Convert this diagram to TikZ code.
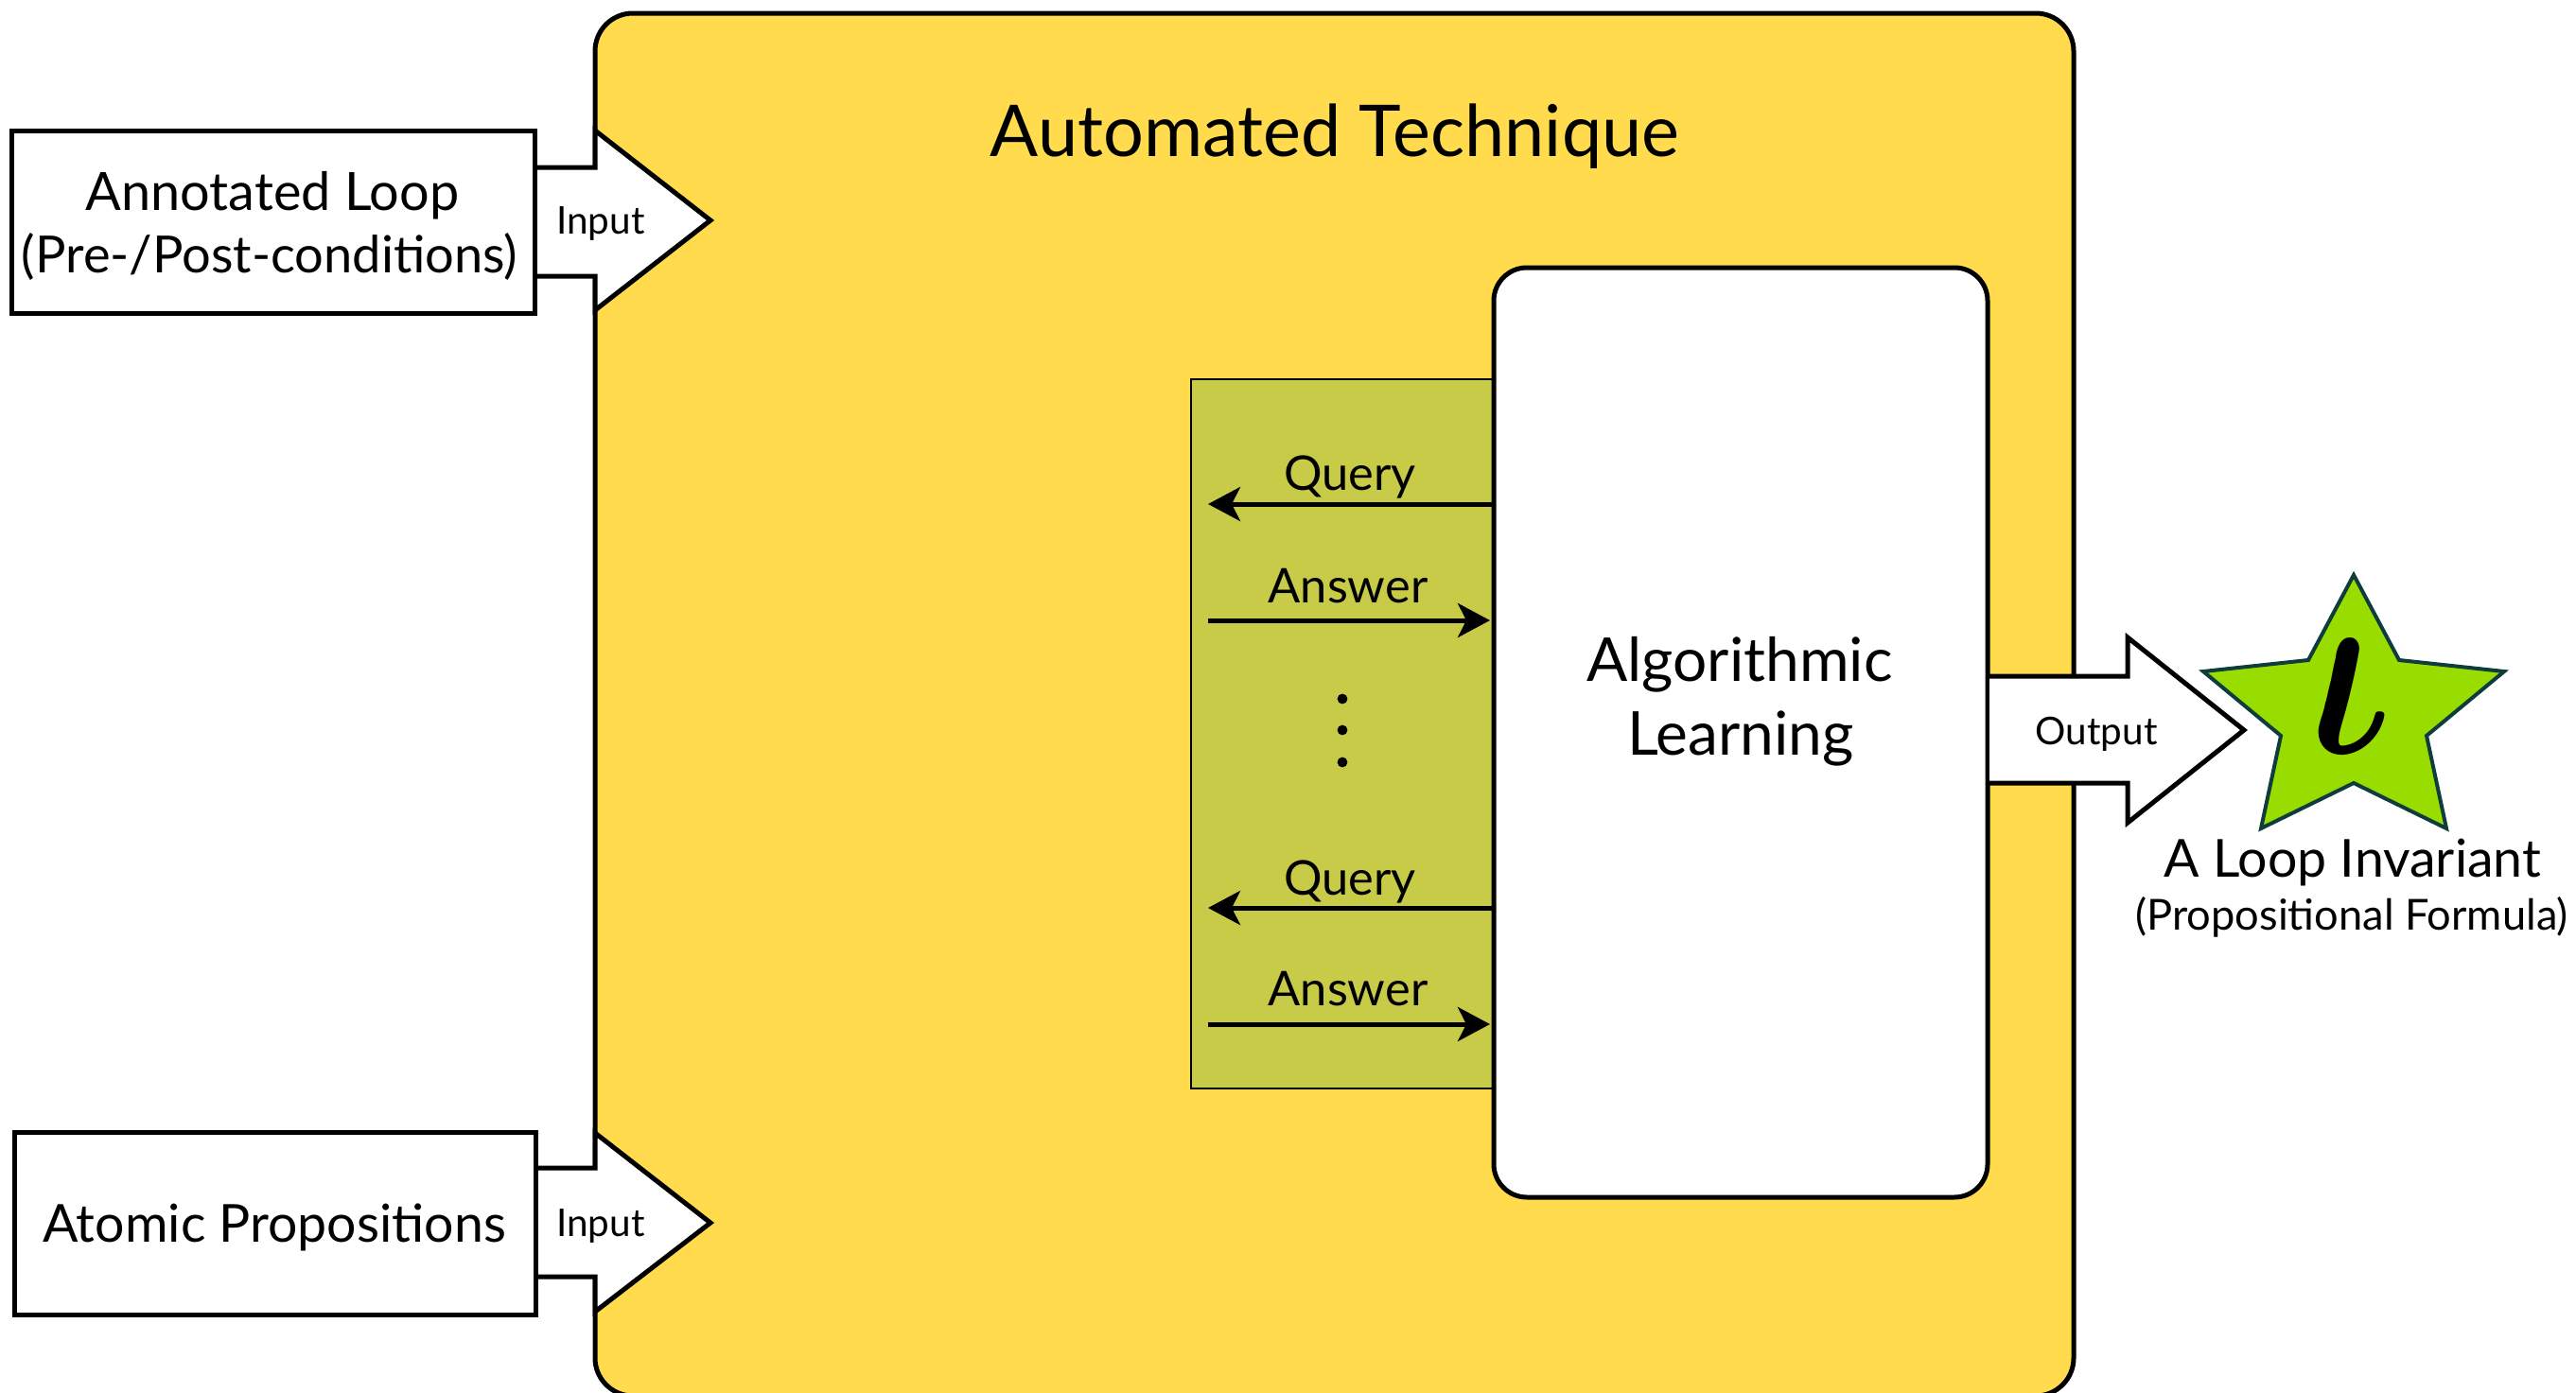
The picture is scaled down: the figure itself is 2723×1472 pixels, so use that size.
\documentclass[tikz,border=0pt]{standalone}
\usepackage{fontspec}
\setmainfont{Lato}
\usetikzlibrary{arrows.meta}
\definecolor{autoyellow}{HTML}{FFDB4D}
\definecolor{panelolive}{HTML}{C8CB48}
\definecolor{stargreen}{HTML}{99DD00}
\definecolor{starline}{HTML}{0F3D3D}
\begin{document}
\begin{tikzpicture}[x=0.5pt,y=-0.5pt,
  inbox/.style={draw, line width=2.5pt, fill=white, inner sep=0pt, outer sep=0pt},
  bigarrow/.style={draw, line width=2.5pt, line join=miter},
  lbl/.style={anchor=base, inner sep=0pt, outer sep=0pt},
  qa/.style={line width=2.5pt, -{Stealth[length=17pt,width=18pt,inset=4.5pt]}},
  dotstyle/.style={circle, fill=black, inner sep=0pt, minimum size=5.4pt},
  bigfont/.style={font=\fontsize{27.7}{33}\selectfont},
  smallfont/.style={font=\fontsize{20.2}{24}\selectfont},
  qafont/.style={font=\fontsize{25.3}{30}\selectfont},
]
\useasboundingbox (0,0) rectangle (2723,1472);
% main yellow box
\begin{scope}
\clip (0,0) rectangle (2723,1472);
\node[draw, line width=2.5pt, fill=autoyellow, rounded corners=20pt, minimum width=781.5pt, minimum height=731pt, inner sep=0pt, outer sep=0pt] (auto) at (1410.5,745) {};
\end{scope}
\node[lbl, font=\fontsize{37.8}{45}\selectfont] (title) at (1411,165) {Automated Technique};

% input arrows
\fill[white] (560,177) -- (629,177) -- (629,138) -- (751,233) -- (629,328) -- (629,292) -- (560,292) -- cycle;
\draw[bigarrow] (565,177) -- (629,177) -- (629,138) -- (751,233) -- (629,328) -- (629,292) -- (565,292);
\node[lbl, smallfont] (in1) at (635,247) {Input};

\fill[white] (560,1235) -- (629,1235) -- (629,1198) -- (751,1293) -- (629,1387) -- (629,1350) -- (560,1350) -- cycle;
\draw[bigarrow] (566,1235) -- (629,1235) -- (629,1198) -- (751,1293) -- (629,1387) -- (629,1350) -- (566,1350);
\node[lbl, smallfont] (in2) at (635,1307) {Input};

% input boxes
\node[inbox, minimum width=276.5pt, minimum height=96.5pt] (annot) at (288.5,234.5) {};
\node[lbl, font=\fontsize{27.9}{33}\selectfont] (annot1) at (288,222) {Annotated Loop};
\node[lbl, font=\fontsize{27.1}{33}\selectfont] (annot2) at (285,288) {(Pre-/Post-conditions)};

\node[inbox, minimum width=275.5pt, minimum height=96.5pt] (atomic) at (290.5,1293.5) {};
\node[lbl, bigfont] (atomictext) at (290,1313) {Atomic Propositions};

% query panel and learner
\node[draw, line width=1pt, fill=panelolive, minimum width=160pt, minimum height=375pt, inner sep=0pt, outer sep=0pt] (panel) at (1419,776) {};
\node[draw, line width=2.5pt, fill=white, rounded corners=17.5pt, minimum width=261pt, minimum height=491.5pt, inner sep=0pt, outer sep=0pt] (learn) at (1840,774.5) {};
\node[lbl, font=\fontsize{32}{38}\selectfont] (learn1) at (1839,720) {Algorithmic};
\node[lbl, font=\fontsize{32}{38}\selectfont] (learn2) at (1840,798) {Learning};

\coordinate (q1) at (1277,533);
\coordinate (a1) at (1277,656);
\coordinate (q2) at (1277,960);
\coordinate (a2) at (1277,1083);
\draw[qa] (learn.west |- q1) -- (q1);
\draw[qa, shorten >=2pt] (a1) -- (learn.west |- a1);
\draw[qa] (learn.west |- q2) -- (q2);
\draw[qa, shorten >=2pt] (a2) -- (learn.west |- a2);
\node[lbl, qafont] (ql1) at (1427,518) {Query};
\node[lbl, qafont] (al1) at (1425,637) {Answer};
\node[lbl, qafont] (ql2) at (1427,946) {Query};
\node[lbl, qafont] (al2) at (1425,1063) {Answer};
\node[dotstyle] (d1) at (1419,739) {};
\node[dotstyle] (d2) at (1419,772) {};
\node[dotstyle] (d3) at (1419,806) {};

% output arrow
\fill[white] (2103,715) -- (2249,715) -- (2249,674) -- (2372,772) -- (2249,870) -- (2249,828) -- (2103,828) -- cycle;
\draw[bigarrow] (2101,715) -- (2249,715) -- (2249,674) -- (2372,772) -- (2249,870) -- (2249,828) -- (2101,828);
\node[lbl, smallfont] (out) at (2216,787) {Output};

% star
\filldraw[fill=stargreen, draw=starline, line width=2pt, line join=miter]
  (2488,608) -- (2536,698) -- (2647,710) -- (2565,778) -- (2586,876) -- (2488,828)
  -- (2390,876) -- (2411,778) -- (2329,710) -- (2440,698) -- cycle;
\node[inner sep=0pt] (iota) at (2485,736) {\scalebox{10.5}[13.5]{\boldmath$\iota$}};
\node[lbl, font=\fontsize{27.7}{33}\selectfont] (inv1) at (2487,927) {A Loop Invariant};
\node[lbl, font=\fontsize{22.6}{27}\selectfont] (inv2) at (2486,983) {(Propositional Formula)};
\end{tikzpicture}
\end{document}
